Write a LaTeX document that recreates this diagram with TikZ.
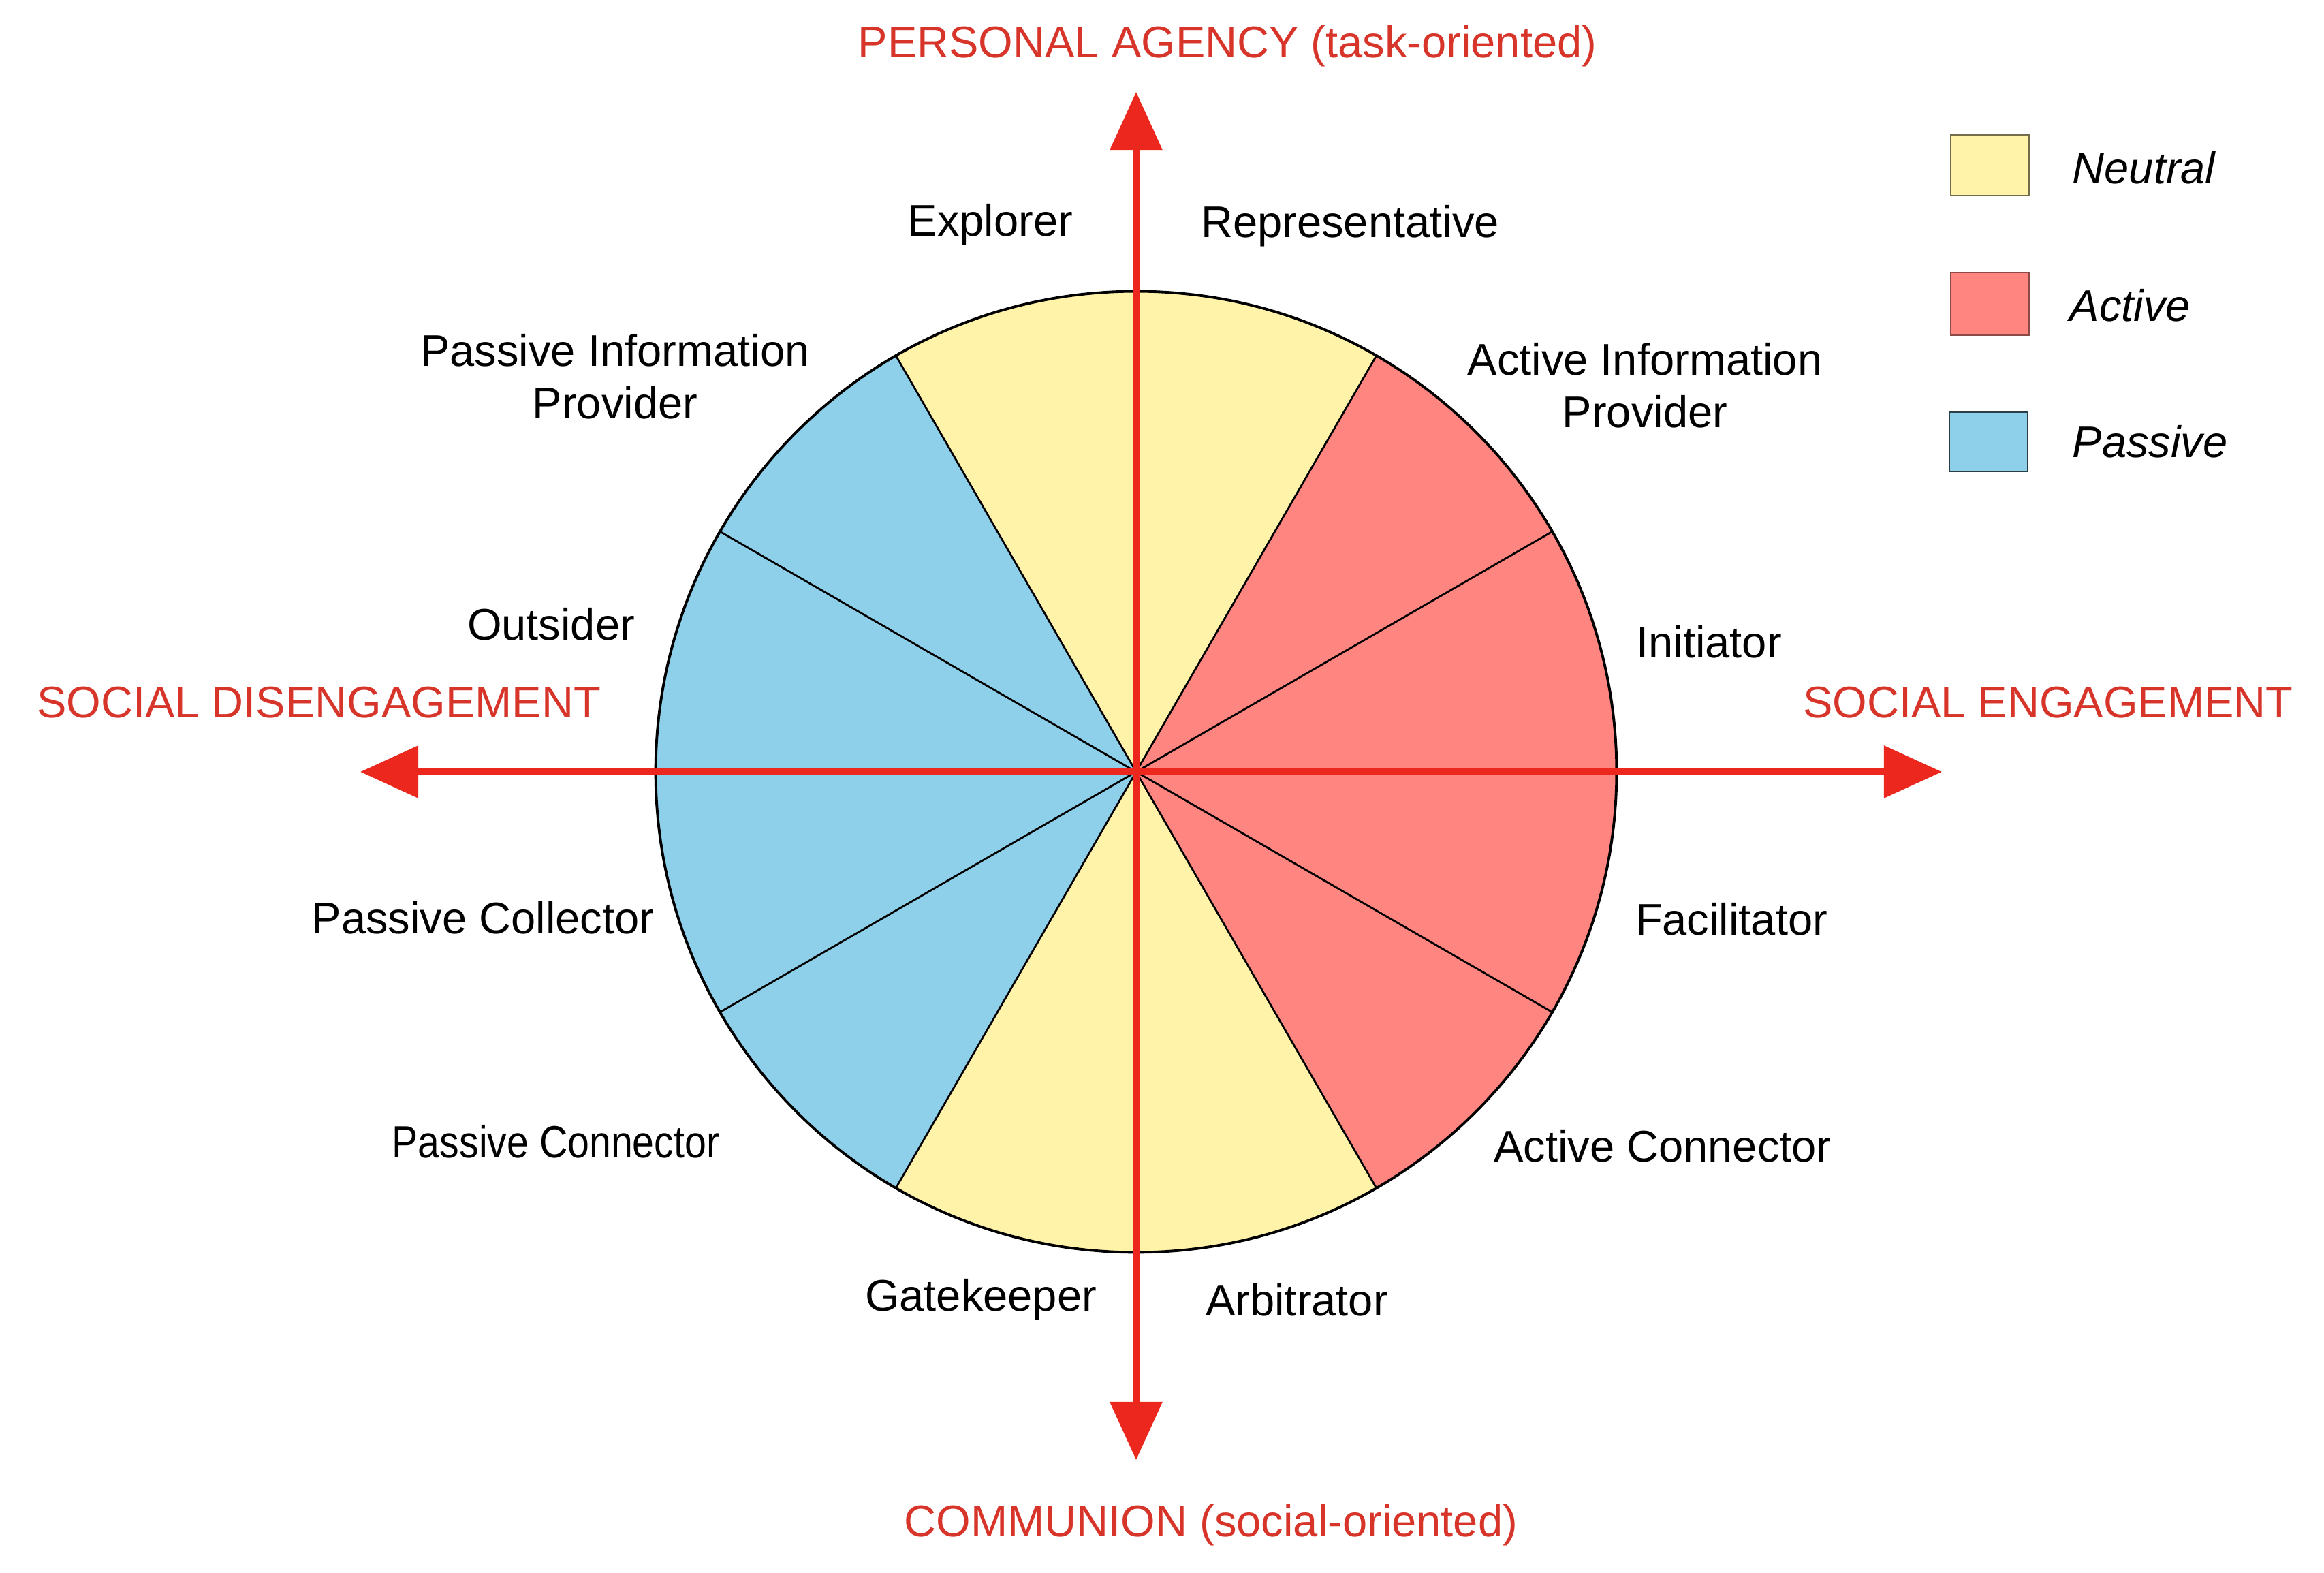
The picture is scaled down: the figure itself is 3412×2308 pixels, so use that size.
\documentclass[tikz,border=0pt]{standalone}
\usepackage{fontspec}
\setmainfont{Liberation Sans}
\usetikzlibrary{arrows.meta,calc}
\definecolor{neutralc}{RGB}{255,243,170}
\definecolor{activec}{RGB}{255,134,128}
\definecolor{passivec}{RGB}{142,207,234}
\definecolor{axisred}{RGB}{236,40,30}
\definecolor{labred}{RGB}{215,52,42}
\begin{document}
\begin{tikzpicture}[x=0.01cm,y=0.01cm,
  lbl/.style={font=\fontsize{18.5pt}{22pt}\selectfont, text=black, inner sep=0pt, align=center},
  axlbl/.style={font=\fontsize{18.5pt}{22pt}\selectfont, text=labred, inner sep=0pt},
  leglbl/.style={font=\fontsize{18.5pt}{22pt}\selectfont\itshape, text=black, inner sep=0pt, anchor=west},
  axisline/.style={draw=axisred, line width=2.6pt, -{Triangle[length=0.85cm,width=0.75cm]}},
  radial/.style={draw=black, line width=0.8pt}]
\useasboundingbox (0,0) rectangle (3412,2308);
\fill[white] (0,0) rectangle (3412,2308);
\coordinate (o) at (1668,1175);
% sectors
\foreach \a/\c in {0/activec,30/activec,60/neutralc,90/neutralc,120/passivec,150/passivec,180/passivec,210/passivec,240/neutralc,270/neutralc,300/activec,330/activec}{
  \fill[\c] (o) -- ++(\a:705) arc[start angle=\a, end angle=\a+30, radius=7.05cm] -- cycle;
}
\foreach \a in {0,30,...,330}{
  \coordinate (r\a) at ($(o)+(\a:705)$);
}
\foreach \a in {0,30,...,330}{
  \draw[radial] (o) -- (r\a);
}
\draw[black, line width=1.1pt] (o) circle[radius=7.05cm];
% axes
\coordinate (top) at (1668,2173);
\coordinate (bot) at (1668,165);
\coordinate (lft) at (529,1175);
\coordinate (rgt) at (2851,1175);
\draw[axisline] (o) -- (top);
\draw[axisline] (o) -- (bot);
\draw[axisline] (o) -- (lft);
\draw[axisline] (o) -- (rgt);
% axis labels
\node[axlbl] (pa) at (1802,2240) {PERSONAL AGENCY (task-oriented)};
\node[axlbl] (co) at (1778,69) {COMMUNION (social-oriented)};
\node[axlbl] (sd) at (468,1277) {SOCIAL DISENGAGEMENT};
\node[axlbl] (se) at (3007,1277) {SOCIAL ENGAGEMENT};
% role labels
\node[lbl] (ex) at (1454,1978) {Explorer};
\node[lbl] (re) at (1982,1976) {Representative};
\node[lbl] (pip) at (903,1755) {Passive Information\\Provider};
\node[lbl] (aip) at (2415,1742) {Active Information\\Provider};
\node[lbl] (ou) at (809,1392) {Outsider};
\node[lbl] (in) at (2509,1366) {Initiator};
\node[lbl] (pcol) at (709,961) {Passive Collector};
\node[lbl] (fa) at (2542,959) {Facilitator};
\node[lbl] (pcon) at (816,632) {\scalebox{0.88}[1.02]{Passive Connector}};
\node[lbl] (acon) at (2441,626) {Active Connector};
\node[lbl] (ga) at (1440,400) {Gatekeeper};
\node[lbl] (ar) at (1904,400) {Arbitrator};
% legend
\draw[fill=neutralc, draw=neutralc!45!black, line width=0.8pt] (2864,2021) rectangle (2979,2110);
\draw[fill=activec, draw=activec!55!black, line width=0.8pt] (2864,1816) rectangle (2979,1908);
\draw[fill=passivec, draw=passivec!30!black, line width=0.8pt] (2862,1616) rectangle (2977,1703);
\node[leglbl] (ln) at (3042,2062) {Neutral};
\node[leglbl] (la) at (3038,1860) {Active};
\node[leglbl] (lp) at (3042,1660) {Passive};
\end{tikzpicture}
\end{document}
